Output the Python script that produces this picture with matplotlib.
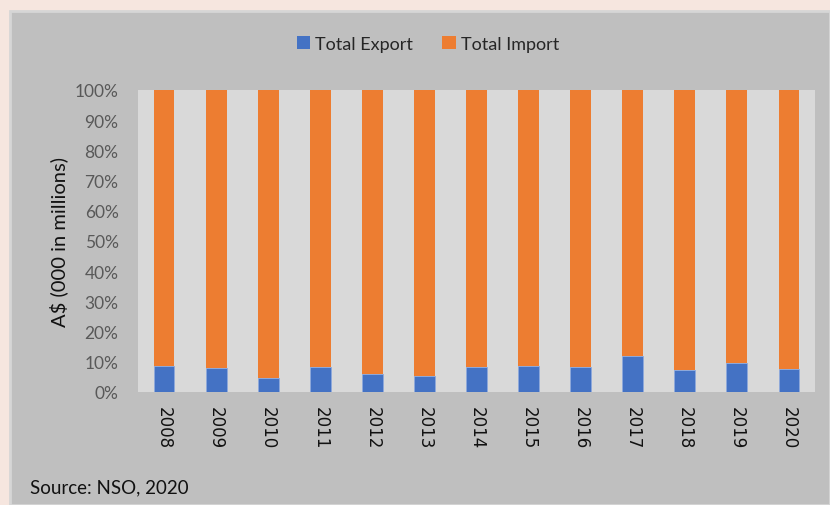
import matplotlib
matplotlib.use("Agg")
import matplotlib.pyplot as plt
from matplotlib.patches import Rectangle, Patch
from matplotlib.ticker import PercentFormatter, MultipleLocator
import numpy as np

years = ["2008", "2009", "2010", "2011", "2012", "2013", "2014",
         "2015", "2016", "2017", "2018", "2019", "2020"]
export_share = [8.7, 7.9, 4.6, 8.4, 5.9, 5.4, 8.4, 8.7, 8.4, 12.0, 7.2, 9.6, 7.7]
import_share = [100 - v for v in export_share]

series_names = ["Total Export", "Total Import"]
colors = ["#4472C4", "#ED7D31"]

plt.rcParams['font.family'] = ['Lato', 'DejaVu Sans']

W, H = 830, 506
fig = plt.figure(figsize=(W / 100, H / 100), dpi=100)
fig.patch.set_facecolor("#f6e6df")

# grey panel
fig.patches.append(Rectangle((10 / W, 0), 1 - 10 / W, 1 - 12 / H,
                             transform=fig.transFigure, facecolor="#bfbfbf",
                             edgecolor="#d6d6d6", linewidth=2, zorder=-5))

ax = fig.add_axes([138 / W, 1 - 393 / H, 677 / W, 302 / H])
ax.set_zorder(1)
ax.set_facecolor("#d9d9d9")

x = np.arange(len(years))
ax.bar(x, export_share, width=0.4, color=colors[0], edgecolor="#8fa9dc", linewidth=0.6, zorder=2)
ax.bar(x, import_share, width=0.4, bottom=export_share, color=colors[1], zorder=2)

ax.set_xlim(-0.5, len(years) - 0.5)
ax.set_ylim(0, 100)
ax.yaxis.set_major_locator(MultipleLocator(10))
ax.yaxis.set_major_formatter(PercentFormatter(decimals=0))
ax.set_xticks(x)
ax.set_xticklabels(years, rotation=-90, fontsize=12, color="#111111", family=['DejaVu Sans'])
ax.tick_params(axis='y', length=0, pad=14, labelsize=12.5, labelcolor="#595959")
ax.tick_params(axis='x', length=0, pad=10)
for s in ax.spines.values():
    s.set_visible(False)

ax.set_ylabel("A$ (000 in millions)", fontsize=14.5, color="#111111", labelpad=5)

handles = [Patch(facecolor=c, edgecolor='none') for c in colors]
fig.legend(handles, series_names, loc='center', bbox_to_anchor=(428 / W, 1 - 45 / H),
           ncol=2, frameon=False, fontsize=13, handlelength=0.75, handleheight=0.75,
           handletextpad=0.3, columnspacing=1.6, labelcolor="#262626")

fig.text(30 / W, 1 - 488 / H, "Source: NSO, 2020", fontsize=13.5, color="#111111",
         ha='left', va='center')

fig.savefig("out.png", dpi=100, facecolor=fig.get_facecolor())
